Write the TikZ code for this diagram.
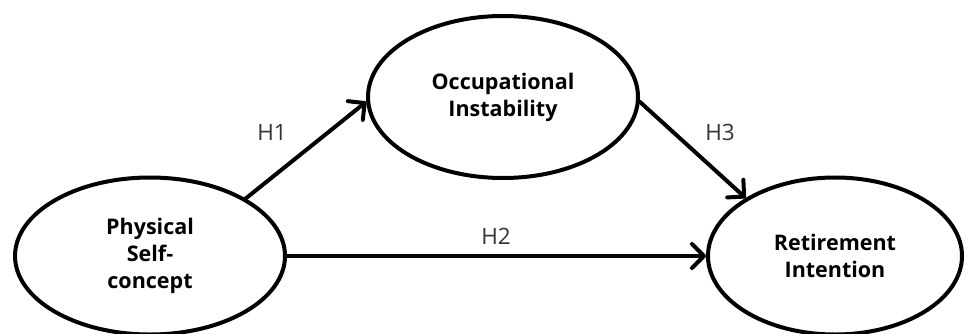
\documentclass[tikz,border=0pt]{standalone}
\usepackage{fontspec}
\setmainfont{Open Sans}
\usetikzlibrary{positioning, arrows.meta, shapes.geometric}
\definecolor{ink}{HTML}{000000}
\definecolor{slate}{HTML}{333333}

\begin{document}
\begin{tikzpicture}[x=1pt, y=-1pt,
        construct/.style={ellipse, draw=ink, line width=4pt, inner sep=0pt, align=center,
          font=\fontsize{21.5}{27}\selectfont\bfseries},
        path/.style={ink, line width=4pt, line cap=round, line join=round,
          -{Straight Barb[length=12pt, width=24pt, line cap=round, line join=round]}},
        hyp/.style={slate, font=\fontsize{22.5}{26}\selectfont}]
        \useasboundingbox (0,0) rectangle (965,334);
        \node[construct, minimum width=270pt, minimum height=157pt] (phys) at (150,256) {Physical\\Self-\\concept};
        \node[construct, minimum width=270pt, minimum height=162pt] (occ) at (503,97) {Occupational\\Instability};
        \node[construct, minimum width=254pt, minimum height=157pt] (ret) at (835,256) {Retirement\\Intention};
        \draw[path] (phys.31) -- (occ.182);
        \draw[path] (occ.358) -- (ret.147);
        \draw[path] (phys.east) -- (ret.west);
        \node[hyp] (h1) at (272,132) {H1};
        \node[hyp] (h2) at (496,236) {H2};
        \node[hyp] (h3) at (720,132) {H3};
      \end{tikzpicture}
\end{document}
